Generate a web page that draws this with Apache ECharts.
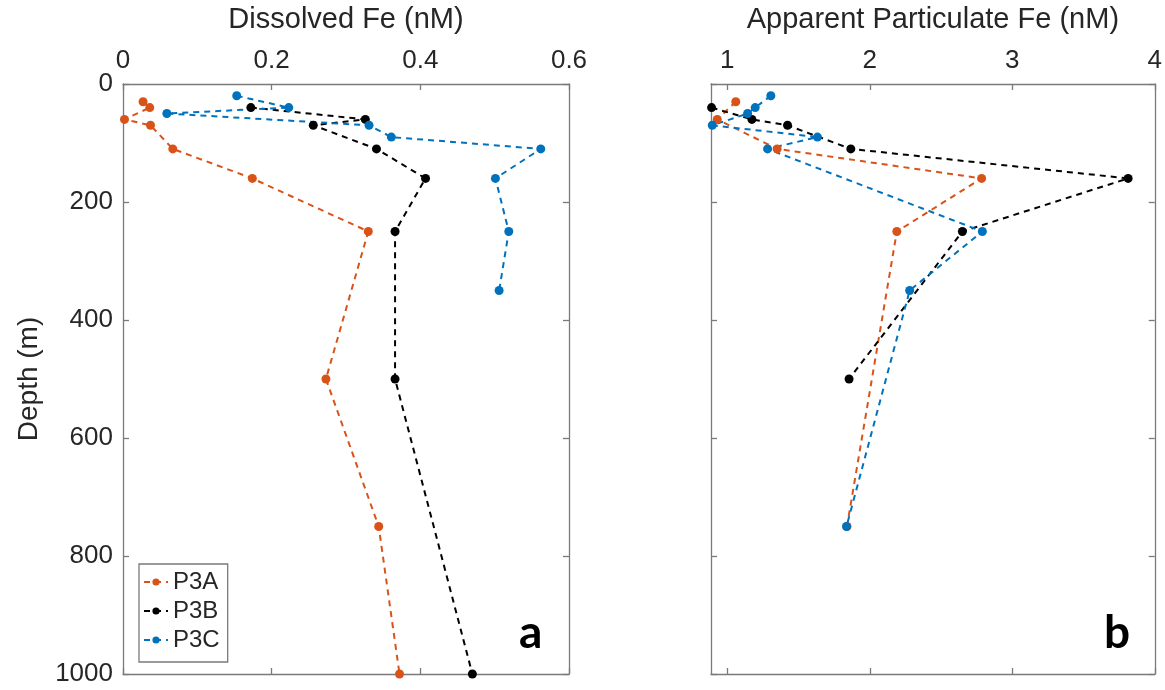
<!DOCTYPE html>
<html>
<head>
<meta charset="utf-8">
<title>Dissolved and apparent particulate Fe profiles</title>
<script src="https://cdn.jsdelivr.net/npm/echarts@6/dist/echarts.min.js"></script>
<style>
  html, body { margin: 0; padding: 0; background: #ffffff; }
  #chart { width: 1165px; height: 690px; }
</style>
</head>
<body>
<div id="chart"></div>
<script>
// Station names and line colours
const stations = ['P3A', 'P3B', 'P3C'];
const stationColors = ['#D95319', '#000000', '#0072BD'];

// Panel a: dissolved Fe (nM) against depth (m)
const dfeDepthP3A = [30, 40, 60, 70, 110, 160, 250, 500, 750, 1000];
const dfeP3A      = [0.027, 0.036, 0.002, 0.037, 0.067, 0.174, 0.330, 0.273, 0.344, 0.372];
const dfeDepthP3B = [40, 60, 70, 110, 160, 250, 500, 1000];
const dfeP3B      = [0.172, 0.326, 0.256, 0.341, 0.407, 0.366, 0.366, 0.470];
const dfeDepthP3C = [20, 40, 50, 70, 90, 110, 160, 250, 350];
const dfeP3C      = [0.153, 0.223, 0.059, 0.331, 0.361, 0.562, 0.501, 0.519, 0.506];

// Panel b: apparent particulate Fe (nM) against depth (m)
const pfeDepthP3A = [30, 60, 110, 160, 250, 750];
const pfeP3A      = [1.06, 0.93, 1.35, 2.785, 2.19, 1.84];
const pfeDepthP3B = [40, 60, 70, 110, 160, 250, 500];
const pfeP3B      = [0.89, 1.173, 1.423, 1.867, 3.813, 2.65, 1.855];
const pfeDepthP3C = [20, 40, 50, 70, 90, 110, 250, 350, 750];
const pfeP3C      = [1.306, 1.196, 1.143, 0.895, 1.633, 1.283, 2.79, 2.28, 1.837];

// Axis ticks
const dfeTicks   = [0, 0.2, 0.4, 0.6];
const pfeTicks   = [1, 2, 3, 4];
const depthTicks = [0, 200, 400, 600, 800, 1000];

// Axis titles and panel letters
const dfeTitle   = 'Dissolved Fe (nM)';
const pfeTitle   = 'Apparent Particulate Fe (nM)';
const depthTitle = 'Depth (m)';
const panelLetters = ['a', 'b'];

const FONT = '"Liberation Sans", Arial, Helvetica, sans-serif';
const TEXT = '#262626';
const FRAME = '#7a7a7a';

const frameLine = { show: true, onZero: false, lineStyle: { color: FRAME, width: 1.3 } };
const innerTick = { show: true, inside: true, length: 6, lineStyle: { color: FRAME, width: 1.3 } };
const labelFont = { color: TEXT, fontFamily: FONT, fontSize: 26 };

// Plain numbers, no thousands separators
function fmtTick(v) {
  return String(Math.round(v * 1000) / 1000);
}

function xAxisPair(gridIndex, min, max, ticks, title) {
  const top = {
    type: 'value', gridIndex, position: 'top', min, max,
    name: title, nameLocation: 'middle', nameGap: 50,
    nameTextStyle: { color: TEXT, fontFamily: FONT, fontSize: 29 },
    axisLine: frameLine,
    axisTick: Object.assign({ customValues: ticks }, innerTick),
    axisLabel: Object.assign({ customValues: ticks, margin: 10, formatter: fmtTick }, labelFont),
    splitLine: { show: false }
  };
  const bottom = {
    type: 'value', gridIndex, position: 'bottom', min, max,
    axisLine: frameLine,
    axisTick: Object.assign({ customValues: ticks }, innerTick),
    axisLabel: { show: false },
    splitLine: { show: false }
  };
  return [top, bottom];
}

function yAxisPair(gridIndex, withLabels) {
  const left = {
    type: 'value', gridIndex, position: 'left', inverse: true, min: 0, max: 1000,
    axisLine: frameLine,
    axisTick: Object.assign({ customValues: depthTicks }, innerTick),
    axisLabel: withLabels
      ? Object.assign({ customValues: depthTicks, margin: 10, formatter: fmtTick }, labelFont)
      : { show: false },
    splitLine: { show: false }
  };
  if (withLabels) {
    left.name = depthTitle;
    left.nameLocation = 'middle';
    left.nameGap = 80;
    left.nameTextStyle = { color: TEXT, fontFamily: FONT, fontSize: 28 };
  }
  const right = {
    type: 'value', gridIndex, position: 'right', inverse: true, min: 0, max: 1000,
    axisLine: frameLine,
    axisTick: Object.assign({ customValues: depthTicks }, innerTick),
    axisLabel: { show: false },
    splitLine: { show: false }
  };
  return [left, right];
}

function profile(name, color, values, depths, xAxisIndex, yAxisIndex) {
  return {
    type: 'line', name, xAxisIndex, yAxisIndex,
    data: values.map((v, i) => [v, depths[i]]),
    symbol: 'circle', symbolSize: 9,
    clip: false,
    itemStyle: { color },
    lineStyle: { color, width: 2, type: [6, 5] },
    emphasis: { disabled: true }
  };
}

const chart = echarts.init(document.getElementById('chart'), null, { renderer: 'canvas' });

const option = {
  animation: false,
  backgroundColor: '#ffffff',
  grid: [
    { left: 123, top: 84, width: 446, height: 590 },
    { left: 711, top: 84, width: 445, height: 590 }
  ],
  xAxis: [
    ...xAxisPair(0, 0, 0.6, dfeTicks, dfeTitle),
    ...xAxisPair(1, 0.886, 4, pfeTicks, pfeTitle)
  ],
  yAxis: [
    ...yAxisPair(0, true),
    ...yAxisPair(1, false)
  ],
  legend: {
    data: stations,
    orient: 'vertical',
    left: 139, top: 564,
    padding: [6, 8, 10, 4],
    itemGap: 5,
    itemWidth: 24, itemHeight: 9,
    selectedMode: false,
    backgroundColor: '#ffffff',
    borderColor: FRAME, borderWidth: 1.3, borderRadius: 0,
    textStyle: { color: TEXT, fontFamily: FONT, fontSize: 24, lineHeight: 24 }
  },
  graphic: [
    { type: 'text', left: 519, top: 610, z: 100,
      style: { text: panelLetters[0], fontFamily: 'Lato, "Open Sans", sans-serif', fontWeight: 'bold', fontSize: 46, fill: '#000' } },
    { type: 'text', left: 1104, top: 610, z: 100,
      style: { text: panelLetters[1], fontFamily: 'Lato, "Open Sans", sans-serif', fontWeight: 'bold', fontSize: 46, fill: '#000' } }
  ],
  series: [
    profile(stations[0], stationColors[0], dfeP3A, dfeDepthP3A, 0, 0),
    profile(stations[1], stationColors[1], dfeP3B, dfeDepthP3B, 0, 0),
    profile(stations[2], stationColors[2], dfeP3C, dfeDepthP3C, 0, 0),
    profile(stations[0], stationColors[0], pfeP3A, pfeDepthP3A, 2, 2),
    profile(stations[1], stationColors[1], pfeP3B, pfeDepthP3B, 2, 2),
    profile(stations[2], stationColors[2], pfeP3C, pfeDepthP3C, 2, 2)
  ]
};

chart.setOption(option);
</script>
</body>
</html>
